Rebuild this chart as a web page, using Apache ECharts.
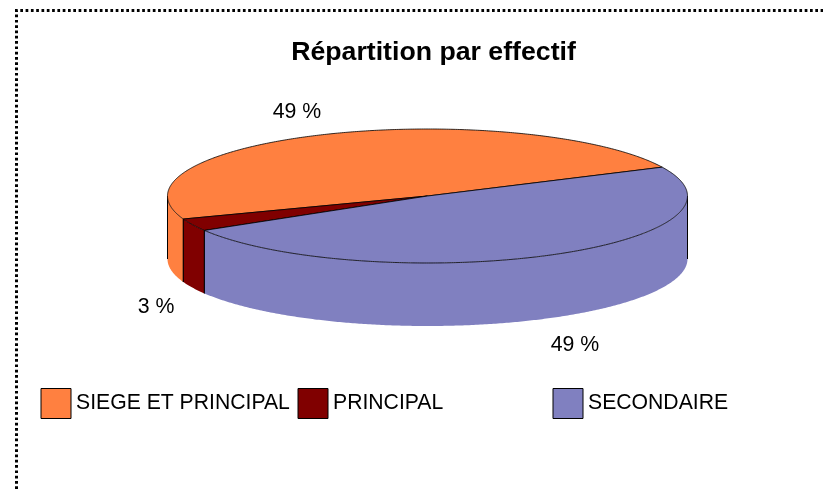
<!DOCTYPE html>
<html>
<head>
    <meta charset="UTF-8">
    <title>Répartition par effectif</title>
    <script src="https://cdn.jsdelivr.net/npm/echarts@6/dist/echarts.min.js"></script>
    <style>
        html, body { margin: 0; padding: 0; background: #fff; }
    </style>
</head>
<body>
    <div id="main" style="width: 823px;height:489px;"></div>
    <script>
        var titleText = 'Répartition par effectif';
        var names = ['SIEGE ET PRINCIPAL', 'PRINCIPAL', 'SECONDAIRE'];
        var shares = [48.5, 3, 48.5];
        var shareLabels = ['49 %', '3 %', '49 %'];
        var colors = ['#FF8040', '#800000', '#8080C0'];

        // the pie is drawn as a flattened disc, ECharts has no 3D pie without GL
        var cx = 427.5, cy = 196, rx = 260, ry = 67, depth = 63;
        var startAngle = 25.5;
        var labelPos = [[297, 112], [156, 307], [575, 345]];
        var legendLeft = [40.5, 297.5, 552.5];

        var total = shares.reduce(function (a, b) { return a + b; }, 0);

        function rim(deg, drop) {
            var t = deg * Math.PI / 180;
            return [cx + rx * Math.cos(t), cy - ry * Math.sin(t) + (drop || 0)];
        }

        function arcPoints(from, to, drop) {
            var pts = [];
            var n = Math.max(2, Math.ceil((to - from) * 2));
            for (var i = 0; i <= n; i++) {
                pts.push(rim(from + (to - from) * i / n, drop));
            }
            return pts;
        }

        function vertical(deg) {
            var a = rim(deg, 0), b = rim(deg, depth);
            return {
                type: 'line',
                shape: { x1: a[0], y1: a[1], x2: b[0], y2: b[1] },
                style: { stroke: '#000', lineWidth: 1 }
            };
        }

        function sliceItem(idx) {
            return function (params, api) {
                var before = 0;
                for (var k = 0; k < idx; k++) before += shares[k];
                var a0 = startAngle + before / total * 360;
                var a1 = a0 + api.value(0) / total * 360;
                var kids = [];

                // front wall, only the part of the slice below the middle of the ellipse
                var s0 = Math.max(a0, 180), s1 = Math.min(a1, 360);
                if (s1 > s0) {
                    var wall = arcPoints(s0, s1, 0).concat(arcPoints(s0, s1, depth).reverse());
                    kids.push({ type: 'polygon', shape: { points: wall }, style: { fill: colors[idx] } });
                    kids.push(vertical(s0));
                    kids.push(vertical(s1));
                }

                // top face
                var top = [[cx, cy]].concat(arcPoints(a0, a1, 0));
                kids.push({
                    type: 'polygon',
                    shape: { points: top },
                    style: { fill: colors[idx], stroke: '#000', lineWidth: 0.8, lineJoin: 'round' }
                });

                kids.push({
                    type: 'text',
                    style: {
                        text: shareLabels[idx],
                        x: labelPos[idx][0],
                        y: labelPos[idx][1],
                        align: 'center',
                        verticalAlign: 'middle',
                        fill: '#000',
                        font: '21.3px "Liberation Sans", Arial, sans-serif'
                    }
                });
                return { type: 'group', children: kids };
            };
        }

        var chartDemo = echarts.init(document.getElementById('main'), null, { renderer: 'canvas' });
        chartDemo.setOption({
            animation: false,
            backgroundColor: '#fff',
            title: {
                text: titleText,
                left: 428.5,
                top: 34,
                textAlign: 'center',
                textStyle: {
                    color: '#000',
                    fontFamily: '"Liberation Sans", Arial, sans-serif',
                    fontWeight: 'bold',
                    fontSize: 26.7
                }
            },
            legend: names.map(function (name, i) {
                return {
                    data: [name],
                    left: legendLeft[i],
                    top: 388,
                    padding: 0,
                    icon: 'rect',
                    itemWidth: 30,
                    itemHeight: 30,
                    itemGap: 0,
                    selectedMode: false,
                    itemStyle: { borderColor: '#000', borderWidth: 1 },
                    textStyle: {
                        color: '#000',
                        fontFamily: '"Liberation Sans", Arial, sans-serif',
                        fontSize: 21.2,
                        padding: [0, 0, 10, 0]
                    }
                };
            }),
            // dotted frame of the original sheet
            graphic: [
                {
                    type: 'polyline',
                    silent: true,
                    shape: { points: [[16.5, 489], [16.5, 10.5], [823, 10.5]] },
                    style: { stroke: '#000', lineWidth: 3, lineDash: [2.7, 2.6], fill: null }
                }
            ],
            series: names.map(function (name, i) {
                return {
                    type: 'custom',
                    name: name,
                    coordinateSystem: 'none',
                    silent: true,
                    itemStyle: { color: colors[i] },
                    data: [shares[i]],
                    renderItem: sliceItem(i)
                };
            })
        });
    </script>
</body>
</html>
